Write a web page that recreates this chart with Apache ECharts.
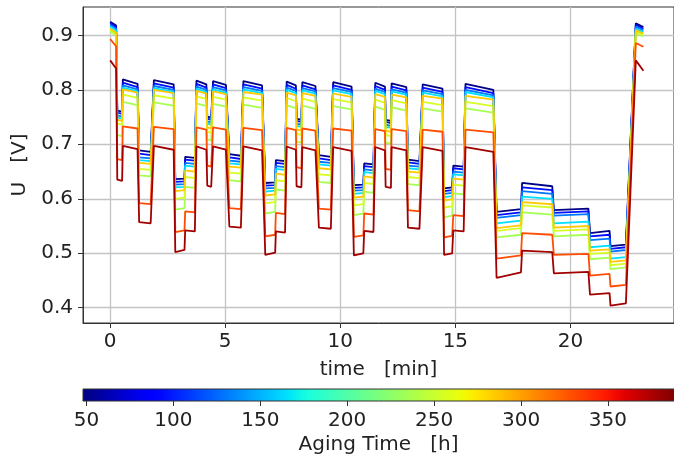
<!DOCTYPE html>
<html><head><meta charset="utf-8">
<script src="https://cdn.jsdelivr.net/npm/echarts@6/dist/echarts.min.js"></script>
<style>html,body{margin:0;padding:0;background:#fff}#c{width:674px;height:464px}</style>
</head><body><div id="c"></div>
<script>
// ---- data ----
const agingHours = [50, 95, 130, 165, 235, 255, 285, 330, 378];
const segStart = [0.00,0.31,0.55,1.26,1.90,2.83,3.26,3.75,4.22,4.47,5.18,5.79,6.74,7.20,7.67,8.10,8.35,9.07,9.69,10.59,11.04,11.52,11.97,12.23,12.94,13.58,14.51,14.91,15.44,16.79,17.90,19.28,20.85,21.74,22.84];
const segEnd   = [0.26,0.52,1.19,1.76,2.76,3.23,3.68,4.18,4.39,5.03,5.68,6.60,7.17,7.60,8.07,8.31,8.92,9.59,10.49,11.00,11.44,11.94,12.20,12.87,13.44,14.44,14.86,15.36,16.65,17.85,19.21,20.78,21.70,22.41,23.17];
// start/end voltage of every segment
const u50h  = [.925,.918,.762,.760,.819,.811,.689,.686,.818,.810,.636,.637,.677,.675,.817,.810,.751,.749,.816,.809,.682,.679,.816,.808,.629,.630,.671,.669,.815,.808,.747,.745,.814,.807,.680,.677,.814,.806,.625,.626,.665,.663,.813,.806,.745,.743,.812,.805,.672,.669,.810,.802,.619,.621,.661,.659,.811,.800,.576,.581,.629,.623,.579,.582,.537,.541,.513,.516,.922,.915];
const u95h  = [.922,.915,.758,.756,.813,.805,.683,.680,.812,.804,.631,.632,.672,.670,.811,.804,.747,.745,.810,.803,.676,.673,.810,.802,.624,.625,.666,.664,.809,.802,.743,.741,.808,.801,.674,.671,.808,.800,.620,.621,.660,.658,.807,.800,.741,.739,.806,.799,.667,.664,.804,.796,.614,.616,.656,.654,.805,.794,.570,.575,.621,.616,.574,.577,.531,.534,.508,.511,.919,.912];
const u130h = [.919,.912,.753,.751,.808,.801,.676,.674,.807,.800,.626,.627,.666,.664,.806,.800,.742,.740,.805,.799,.670,.668,.805,.798,.619,.620,.660,.658,.804,.798,.738,.736,.803,.797,.668,.666,.803,.796,.615,.616,.654,.652,.802,.796,.736,.734,.801,.795,.661,.659,.799,.792,.609,.611,.650,.648,.800,.790,.565,.570,.614,.609,.569,.572,.524,.527,.503,.506,.916,.909];
const u165h = [.916,.909,.749,.747,.804,.797,.671,.669,.803,.796,.621,.622,.661,.659,.802,.796,.738,.736,.801,.795,.665,.663,.801,.794,.613,.615,.655,.653,.800,.794,.734,.732,.799,.793,.663,.661,.799,.792,.609,.611,.649,.647,.798,.792,.732,.730,.797,.791,.656,.654,.795,.788,.603,.605,.645,.643,.796,.786,.555,.560,.604,.600,.555,.558,.511,.514,.490,.493,.912,.906];
const u235h = [.907,.900,.717,.715,.778,.772,.643,.641,.777,.771,.580,.583,.622,.620,.775,.770,.709,.707,.774,.769,.634,.632,.773,.767,.573,.576,.617,.615,.772,.766,.705,.703,.771,.765,.631,.629,.770,.764,.570,.573,.613,.611,.769,.763,.703,.701,.768,.762,.627,.625,.766,.760,.566,.569,.610,.608,.766,.758,.529,.534,.575,.571,.531,.534,.489,.492,.471,.474,.904,.898];
const u255h = [.910,.903,.738,.736,.791,.785,.655,.653,.790,.784,.600,.602,.640,.638,.788,.783,.723,.721,.787,.782,.648,.646,.786,.780,.592,.594,.634,.632,.785,.779,.719,.717,.784,.778,.645,.643,.783,.777,.588,.590,.629,.627,.782,.776,.717,.715,.781,.775,.640,.638,.778,.772,.584,.586,.626,.624,.778,.770,.541,.546,.588,.584,.541,.544,.499,.501,.478,.481,.907,.901];
const u285h = [.912,.905,.745,.743,.801,.795,.666,.664,.800,.794,.614,.616,.652,.650,.798,.793,.731,.729,.797,.792,.659,.657,.796,.791,.606,.608,.646,.644,.795,.790,.727,.725,.794,.789,.656,.654,.793,.787,.602,.604,.641,.639,.792,.787,.725,.723,.791,.786,.650,.648,.789,.784,.597,.599,.637,.635,.789,.782,.546,.551,.594,.590,.547,.550,.505,.507,.484,.487,.909,.903];
const u330h = [.893,.880,.673,.671,.733,.729,.592,.590,.732,.728,.539,.542,.577,.575,.731,.727,.661,.659,.731,.727,.583,.581,.730,.726,.531,.534,.574,.572,.730,.726,.658,.656,.729,.725,.582,.580,.729,.725,.530,.533,.573,.571,.728,.724,.655,.653,.728,.724,.579,.577,.727,.723,.529,.532,.570,.568,.727,.722,.490,.496,.537,.534,.497,.499,.459,.462,.439,.442,.886,.879];
const u378h = [.854,.839,.635,.633,.697,.691,.557,.555,.697,.690,.502,.506,.542,.540,.696,.690,.624,.622,.696,.690,.549,.547,.696,.689,.497,.501,.540,.538,.696,.690,.623,.621,.695,.689,.547,.545,.695,.688,.496,.500,.541,.539,.695,.689,.622,.620,.695,.689,.547,.545,.695,.688,.497,.500,.542,.540,.695,.686,.455,.465,.505,.502,.463,.466,.424,.427,.404,.408,.854,.835];
const seriesValues = [u50h, u95h, u130h, u165h, u235h, u255h, u285h, u330h, u378h];
const xTicks = [0, 5, 10, 15, 20];
const yTicks = [0.4, 0.5, 0.6, 0.7, 0.8, 0.9];
const cbTicks = [50, 100, 150, 200, 250, 300, 350];
const cbMin = 48, cbMax = 388;

// ---- jet colormap ----
const JR=[[0,0],[0.35,0],[0.66,1],[0.89,1],[1,0.5]], JG=[[0,0],[0.125,0],[0.375,1],[0.64,1],[0.91,0],[1,0]], JB=[[0,0.5],[0.11,1],[0.34,1],[0.65,0],[1,0]];
function interp(p,t){for(let i=0;i<p.length-1;i++){const a=p[i],b=p[i+1];if(t>=a[0]&&t<=b[0])return a[1]+(b[1]-a[1])*(t-a[0])/(b[0]-a[0]);}return p[p.length-1][1];}
function jet(t){t=Math.max(0,Math.min(1,t));const c=[JR,JG,JB].map(p=>Math.round(255*interp(p,t)));return 'rgb('+c.join(',')+')';}
const stops=[];for(let i=0;i<=60;i++)stops.push({offset:i/60,color:jet(i/60)});

const FONT='DejaVu Sans', TXT='#222', AX='#333';
const lineSeries = seriesValues.map((vals,k)=>({
  type:'line', xAxisIndex:0, yAxisIndex:0, showSymbol:false, symbol:'none', silent:true,
  lineStyle:{width:1.8, color:jet((agingHours[k]-cbMin)/(cbMax-cbMin))},
  data: segStart.flatMap((s,i)=>[[s, vals[2*i]],[segEnd[i], vals[2*i+1]]])
}));

const chart = echarts.init(document.getElementById('c'), null, {renderer:'canvas'});
chart.setOption({
  animation:false, backgroundColor:'#fff',
  textStyle:{fontFamily:FONT},
  grid:[
    {left:83,right:-10,top:7,bottom:141,show:true,borderColor:AX,borderWidth:1,backgroundColor:'transparent'},
    {left:83,right:-10,top:389,height:12}
  ],
  xAxis:[
    {type:'value',gridIndex:0,min:-1.18,max:24.5,
     name:'time   [min]',nameLocation:'middle',nameGap:37,nameTextStyle:{fontSize:20,color:TXT,fontFamily:FONT},
     axisLine:{show:true,onZero:false,lineStyle:{color:AX,width:1}},
     axisTick:{show:true,customValues:xTicks,length:5,lineStyle:{color:AX}},
     axisLabel:{customValues:xTicks,fontSize:20,color:TXT,margin:9,fontFamily:FONT},
     splitLine:{show:true,lineStyle:{color:'#c4c4c4',width:1.3}}},
    {type:'value',gridIndex:1,min:cbMin,max:cbMax,
     name:'Aging Time   [h]',nameLocation:'middle',nameGap:34,nameTextStyle:{fontSize:20,color:TXT,fontFamily:FONT},
     axisLine:{show:false,onZero:false},
     axisTick:{show:true,customValues:cbTicks,length:5,lineStyle:{color:AX}},
     axisLabel:{customValues:cbTicks,fontSize:20,color:TXT,margin:10,fontFamily:FONT},
     splitLine:{show:false}}
  ],
  yAxis:[
    {type:'value',gridIndex:0,min:0.372,max:0.952,
     name:'U   [V]',nameLocation:'middle',nameRotate:90,nameGap:53,nameTextStyle:{fontSize:20,color:TXT,fontFamily:FONT},
     axisLine:{show:true,onZero:false,lineStyle:{color:AX,width:1}},
     axisTick:{show:true,customValues:yTicks,length:5,lineStyle:{color:AX}},
     axisLabel:{customValues:yTicks,fontSize:20,color:TXT,margin:10,fontFamily:FONT,formatter:v=>v.toFixed(1)},
     splitLine:{show:true,lineStyle:{color:'#c4c4c4',width:1.3}}},
    {type:'value',gridIndex:1,min:0,max:1,show:false}
  ],
  series:[...lineSeries,
    {type:'custom',xAxisIndex:1,yAxisIndex:1,silent:true,clip:false,data:[[cbMin,0]],
     renderItem:(params,api)=>{const p0=api.coord([cbMin,0]),p1=api.coord([cbMax,1]);
       return {type:'rect',shape:{x:p0[0],y:p1[1],width:p1[0]-p0[0],height:p0[1]-p1[1]},
         style:{fill:new echarts.graphic.LinearGradient(0,0,1,0,stops),stroke:AX,lineWidth:1}};}}
  ]
});
</script></body></html>
